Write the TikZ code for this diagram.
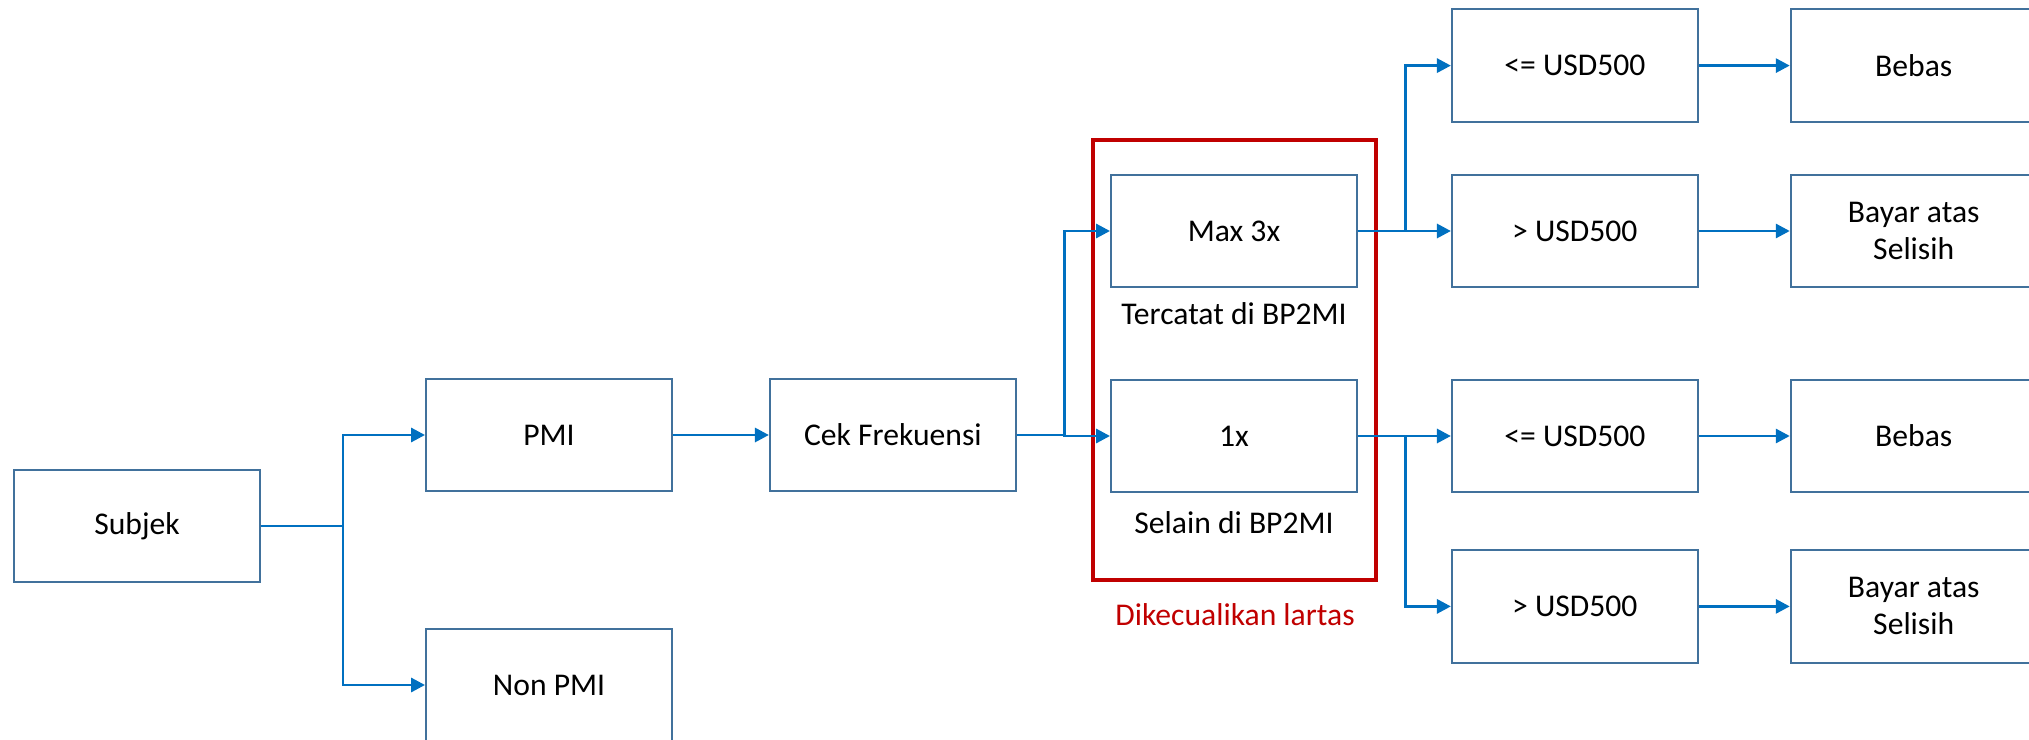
\documentclass[tikz,border=0pt]{standalone}
\usepackage{fontspec}
\setmainfont{Carlito}
\usetikzlibrary{positioning, arrows.meta}

\definecolor{linkblue}{RGB}{0,112,192}
\definecolor{boxblue}{RGB}{65,113,156}
\definecolor{framered}{RGB}{192,0,0}

\tikzset{
    box/.style={draw=boxblue, line width=1.1pt, minimum width=4.92cm, minimum height=2.25cm, inner sep=0pt, align=center},
    link/.style={draw=linkblue, line width=1.7pt, -{Triangle[length=8pt, width=8pt]}},
    frame/.style={draw=framered, line width=2.8pt},
}

\begin{document}
\begin{tikzpicture}[x=0.02cm, y=-0.02cm, node distance=1.92cm]
    \fontsize{18}{21}\selectfont
    \useasboundingbox (0,0) rectangle (2029,740);
    %
    \node [box] (subjek) at (137,526) {Subjek};
    \node [box] (pmi) at (549,435) {PMI};
    \node [box] (nonpmi) at (549,685) {Non PMI};
    \node [box, right=of pmi] (cek) {Cek Frekuensi};
    \node [box] (max) at (1234,231) {Max 3x};
    \node [box] (satu) at (1234,436) {1x};
    \node (tercatat) at (1234,314) {Tercatat di BP2MI};
    \node (selain) at (1234,523) {Selain di BP2MI};
    \draw [frame] (1093,140) rectangle (1376,580);
    \node [text=framered] (lartas) at (1235,615) {Dikecualikan lartas};
    %
    \node [box, right=1.86cm of max] (gt1) {> USD500};
    \node [box, above=1.02cm of gt1] (le1) {<= USD500};
    \node [box, right=1.86cm of satu] (le2) {<= USD500};
    \node [box, below=1.12cm of le2] (gt2) {> USD500};
    \node [box, right=1.82cm of le1] (bebas1) {Bebas};
    \node [box, right=1.82cm of gt1] (bayar1) {Bayar atas\\Selisih};
    \node [box, right=1.82cm of le2] (bebas2) {Bebas};
    \node [box, right=1.82cm of gt2] (bayar2) {Bayar atas\\Selisih};
    %
    \coordinate (b1) at (343,526);
    \coordinate (b2) at (1064,435);
    \coordinate (b3) at (1405,231);
    \coordinate (b4) at (1405,436);
    %
    \draw [link] (subjek.east) -- (b1) |- (pmi.west);
    \draw [link] (subjek.east) -- (b1) |- (nonpmi.west);
    \path (pmi) edge[link] (cek);
    \draw [link] (cek.east) -- (b2) |- (max.west);
    \draw [link] (cek.east) -- (b2) |- (satu.west);
    \draw [link] (max.east) -- (b3) |- (le1.west);
    \path (max) edge[link] (gt1);
    \path (satu) edge[link] (le2);
    \draw [link] (satu.east) -- (b4) |- (gt2.west);
    %
    \path (le1) edge[link] (bebas1);
    \path (gt1) edge[link] (bayar1);
    \path (le2) edge[link] (bebas2);
    \path (gt2) edge[link] (bayar2);
\end{tikzpicture}
\end{document}
